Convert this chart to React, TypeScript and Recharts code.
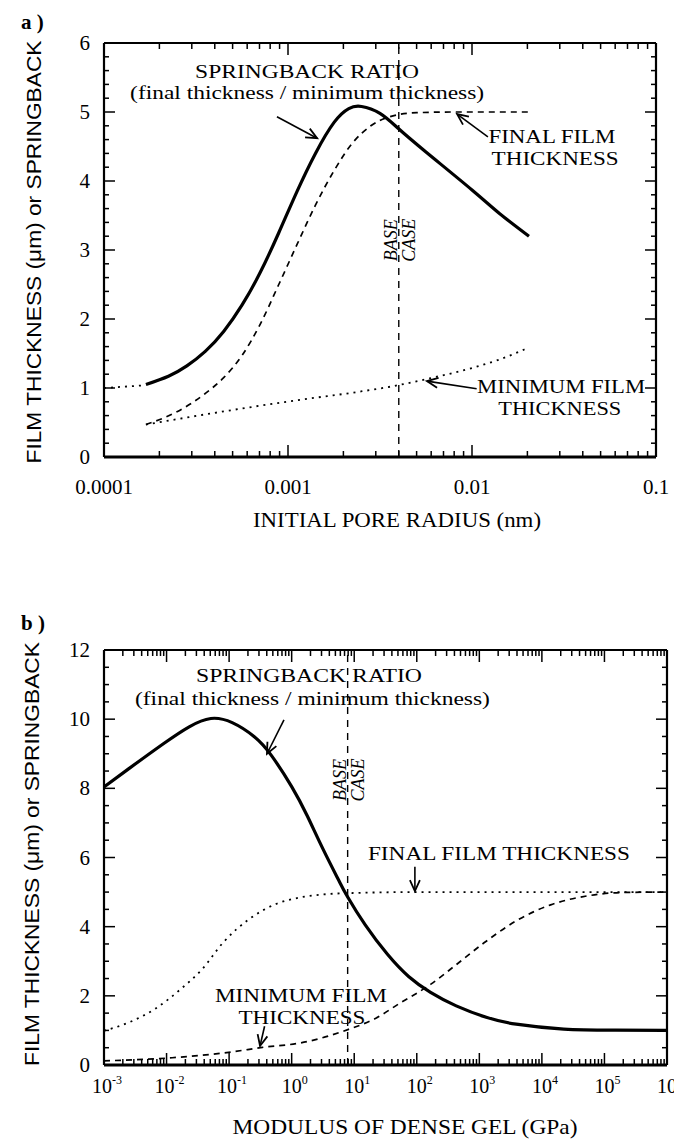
import React from 'react';
import { LineChart, Line, XAxis, YAxis, ReferenceLine, ReferenceDot } from 'recharts';

const SERIF = "'Liberation Serif', 'Times New Roman', Times, serif";
const SANS = "'Liberation Sans Narrow', 'Liberation Sans', Arial, sans-serif";

// ---------------- Panel a: initial pore radius (nm) ----------------
const A_SPRING_R = [1.69e-4, 2.24e-4, 2.82e-4, 3.55e-4, 4.47e-4, 5.62e-4, 7.08e-4, 8.91e-4, 1.12e-3, 1.41e-3, 1.78e-3, 2.14e-3, 2.51e-3, 3.16e-3, 3.98e-3, 5.62e-3, 1.0e-2, 1.41e-2, 2.04e-2];
const A_SPRING_V = [1.05, 1.17, 1.32, 1.53, 1.82, 2.2, 2.68, 3.25, 3.85, 4.4, 4.85, 5.05, 5.08, 4.98, 4.76, 4.42, 3.87, 3.53, 3.2];
const A_FINAL_R = [1.69e-4, 2.51e-4, 3.55e-4, 4.47e-4, 5.62e-4, 7.08e-4, 8.91e-4, 1.12e-3, 1.41e-3, 1.78e-3, 2.24e-3, 2.82e-3, 3.55e-3, 5.01e-3, 7.94e-3, 2.04e-2];
const A_FINAL_V = [0.47, 0.66, 0.92, 1.15, 1.47, 1.93, 2.5, 3.08, 3.65, 4.15, 4.55, 4.8, 4.93, 4.99, 5.0, 5.0];
const A_MIN_R = [1.69e-4, 4.0e-4, 1.17e-3, 2.35e-3, 3.45e-3, 5.9e-3, 1.0e-2, 1.4e-2, 1.93e-2];
const A_MIN_V = [0.47, 0.64, 0.83, 0.94, 1.01, 1.14, 1.29, 1.41, 1.56];
const A_LEAD_R = [1.0e-4, 1.69e-4];
const A_LEAD_V = [1.0, 1.04];
const A_BASE = 4.0e-3;
const A_X_DOMAIN = [1e-4, 1e-1];
const A_X_MAJOR = [1e-4, 1e-3, 1e-2, 1e-1];
const A_X_LABELS = ['0.0001', '0.001', '0.01', '0.1'];
const A_Y_DOMAIN = [0, 6];

// ---------------- Panel b: modulus of dense gel (GPa) ----------------
const B_SPRING_E = [0.001, 0.0025, 0.0089, 0.023, 0.051, 0.112, 0.25, 0.47, 1, 1.78, 3.16, 5.62, 7.9, 15, 34, 74, 166, 427, 1290, 3890, 22400, 150000, 1e6];
const B_SPRING_V = [8.04, 8.57, 9.29, 9.78, 10.02, 9.9, 9.5, 8.96, 8.05, 7.2, 6.25, 5.35, 4.85, 4.05, 3.2, 2.56, 2.1, 1.71, 1.38, 1.18, 1.04, 1.01, 1.0];
const B_FINAL_E = [0.001, 0.0025, 0.0065, 0.017, 0.037, 0.081, 0.21, 0.55, 1.41, 3.6, 8.1, 100, 1e6];
const B_FINAL_V = [0.99, 1.23, 1.62, 2.2, 2.77, 3.55, 4.22, 4.65, 4.85, 4.94, 4.97, 5.0, 5.0];
const B_MIN_E = [0.001, 0.0123, 0.112, 0.34, 1.41, 8.1, 21, 54, 166, 427, 1290, 3890, 13800, 57500, 204000, 1e6];
const B_MIN_V = [0.12, 0.21, 0.38, 0.51, 0.64, 1.03, 1.33, 1.79, 2.33, 2.9, 3.58, 4.17, 4.63, 4.9, 4.99, 5.0];
const B_BASE = 7.85;
const B_X_DOMAIN = [1e-3, 1e6];
const B_X_MAJOR = [1e-3, 1e-2, 1e-1, 1e0, 1e1, 1e2, 1e3, 1e4, 1e5, 1e6];
const B_X_EXP = ['-3', '-2', '-1', '0', '1', '2', '3', '4', '5', '6'];
const B_Y_DOMAIN = [0, 12];

// ---------------- Annotations ----------------
const A_NOTES = [
  { x: 1.27e-3, y: 5.49, text: 'SPRINGBACK RATIO', len: 224 },
  { x: 1.27e-3, y: 5.19, text: '(final thickness / minimum thickness)', len: 354 },
  { x: 2.72e-2, y: 4.55, text: 'FINAL FILM', len: 127 },
  { x: 2.83e-2, y: 4.23, text: 'THICKNESS', len: 127 },
  { x: 3.05e-2, y: 0.93, text: 'MINIMUM FILM', len: 168 },
  { x: 3.0e-2, y: 0.61, text: 'THICKNESS', len: 123 },
];
const A_ARROWS = [
  { x1: 8.71e-4, y1: 4.93, x2: 1.44e-3, y2: 4.62 },
  { x1: 1.22e-2, y1: 4.64, x2: 8.3e-3, y2: 4.97 },
  { x1: 1.06e-2, y1: 0.99, x2: 5.69e-3, y2: 1.1 },
];
const A_BASE_LABEL_Y = 3.14;

const B_NOTES = [
  { x: 1.89, y: 11.08, text: 'SPRINGBACK RATIO', len: 226 },
  { x: 2.15, y: 10.42, text: '(final thickness / minimum thickness)', len: 355 },
  { x: 2060, y: 5.93, text: 'FINAL FILM THICKNESS', len: 262 },
  { x: 1.41, y: 1.82, text: 'MINIMUM FILM', len: 172 },
  { x: 1.46, y: 1.18, text: 'THICKNESS', len: 127 },
];
const B_ARROWS = [
  { x1: 0.753, y1: 9.98, x2: 0.403, y2: 9.0 },
  { x1: 93.3, y1: 5.73, x2: 93.3, y2: 5.03 },
  { x1: 0.369, y1: 1.12, x2: 0.312, y2: 0.55 },
];
const B_BASE_LABEL_Y = 8.24;

// ---------------- helpers ----------------
const zip = (xs: number[], ys: number[]) => xs.map((x, i) => ({ x, v: ys[i] }));

const logTicks = (lo: number, hi: number) => {
  const out: number[] = [];
  for (let e = lo; e < hi; e++) {
    for (let m = 1; m < 10; m++) out.push(Number((m * Math.pow(10, e)).toPrecision(4)));
  }
  out.push(Number(Math.pow(10, hi).toPrecision(4)));
  return out;
};
const linTicks = (max: number, step: number) => {
  const out: number[] = [];
  for (let i = 0; i * step <= max + 1e-9; i++) out.push(Number((i * step).toFixed(3)));
  return out;
};
const majorIndex = (majors: number[], v: number) =>
  majors.findIndex((m) => Math.abs(v - m) <= Math.abs(m) * 1e-6);

const A_X_TICKS = logTicks(-4, -1);
const B_X_TICKS = logTicks(-3, 6);
const A_Y_TICKS = linTicks(6, 0.2);
const B_Y_TICKS = linTicks(12, 0.5);

const BottomTick = (p: any) => {
  const { x, y, payload, majors, labels, sup, labelDy } = p;
  const idx = majorIndex(majors, payload.value);
  const major = idx >= 0;
  return (
    <g>
      <line x1={x} y1={y} x2={x} y2={y - (major ? 12 : 6)} stroke="#000" strokeWidth={1.5} />
      {major && !sup && (
        <text x={x} y={y + labelDy} textAnchor="middle" fontFamily={SERIF} fontSize={21} fill="#000">
          {labels[idx]}
        </text>
      )}
      {major && sup && (
        <text x={x + 3} y={y + labelDy} textAnchor="middle" fontFamily={SERIF} fontSize={20} fill="#000">
          10
          <tspan dy={-9} fontSize={12}>{labels[idx]}</tspan>
        </text>
      )}
    </g>
  );
};

const TopTick = (p: any) => {
  const { x, y, payload, majors } = p;
  const major = majorIndex(majors, payload.value) >= 0;
  return <line x1={x} y1={y} x2={x} y2={y + (major ? 12 : 6)} stroke="#000" strokeWidth={1.5} />;
};

const LeftTick = (p: any) => {
  const { x, y, payload, step } = p;
  const v = payload.value;
  const major = Math.abs(v / step - Math.round(v / step)) < 1e-6;
  return (
    <g>
      <line x1={x} y1={y} x2={x + (major ? 11 : 5)} y2={y} stroke="#000" strokeWidth={1.5} />
      {major && (
        <text x={x - 14} y={y + 7} textAnchor="end" fontFamily={SERIF} fontSize={21} fill="#000">
          {String(Math.round(v))}
        </text>
      )}
    </g>
  );
};

const RightTick = (p: any) => {
  const { x, y, payload, step } = p;
  const v = payload.value;
  const major = Math.abs(v / step - Math.round(v / step)) < 1e-6;
  return <line x1={x} y1={y} x2={x - (major ? 11 : 5)} y2={y} stroke="#000" strokeWidth={1.5} />;
};

const Arrow = (p: any) => {
  const { x1, y1, x2, y2 } = p;
  const a = Math.atan2(y2 - y1, x2 - x1);
  const L = 11;
  const W = 5;
  const bx = x2 - L * Math.cos(a);
  const by = y2 - L * Math.sin(a);
  const p1x = bx + W * Math.sin(a);
  const p1y = by - W * Math.cos(a);
  const p2x = bx - W * Math.sin(a);
  const p2y = by + W * Math.cos(a);
  return (
    <g>
      <line x1={x1} y1={y1} x2={x2} y2={y2} stroke="#000" strokeWidth={1.6} />
      <path d={`M${p1x},${p1y}L${x2},${y2}L${p2x},${p2y}`} fill="none" stroke="#000" strokeWidth={1.8} />
    </g>
  );
};

const noteShape = (text: string, len: number) => (p: any) => (
  <text
    x={p.cx}
    y={p.cy}
    textAnchor="middle"
    fontFamily={SERIF}
    fontSize={18}
    fill="#000"
    textLength={len}
    lengthAdjust="spacingAndGlyphs"
  >
    {text}
  </text>
);

const baseShape = (p: any) => (
  <g fontFamily={SERIF} fontSize={18} fontStyle="italic" fill="#000">
    <text transform={`translate(${p.cx - 2} ${p.cy}) rotate(-90)`} textAnchor="middle">BASE</text>
    <text transform={`translate(${p.cx + 16} ${p.cy}) rotate(-90)`} textAnchor="middle">CASE</text>
  </g>
);

type Pt = { x: number; v: number };
type PanelProps = {
  height: number;
  margin: { top: number; right: number; bottom: number; left: number };
  xDomain: number[];
  xTicks: number[];
  xMajors: number[];
  xLabels: string[];
  sup: boolean;
  labelDy: number;
  yDomain: number[];
  yTicks: number[];
  yStep: number;
  spring: Pt[];
  dashed: Pt[];
  dotted: Pt[];
  extraDotted?: Pt[];
  base: number;
  baseLabelY: number;
  notes: { x: number; y: number; text: string; len: number }[];
  arrows: { x1: number; y1: number; x2: number; y2: number }[];
};

const Panel = (pp: PanelProps) => (
  <LineChart width={674} height={pp.height} margin={pp.margin}>
    <XAxis
      xAxisId="b"
      type="number"
      dataKey="x"
      scale="log"
      domain={pp.xDomain}
      ticks={pp.xTicks}
      interval={0}
      allowDataOverflow
      height={1}
      tickSize={0}
      tickMargin={0}
      tickLine={false}
      axisLine={{ stroke: '#000', strokeWidth: 3 }}
      tick={(p: any) => <BottomTick {...p} majors={pp.xMajors} labels={pp.xLabels} sup={pp.sup} labelDy={pp.labelDy} />}
    />
    <XAxis
      xAxisId="t"
      orientation="top"
      type="number"
      dataKey="x"
      scale="log"
      domain={pp.xDomain}
      ticks={pp.xTicks}
      interval={0}
      allowDataOverflow
      height={1}
      tickSize={0}
      tickMargin={0}
      tickLine={false}
      axisLine={{ stroke: '#000', strokeWidth: 2.2 }}
      tick={(p: any) => <TopTick {...p} majors={pp.xMajors} />}
    />
    <YAxis
      yAxisId="l"
      type="number"
      domain={pp.yDomain}
      ticks={pp.yTicks}
      interval={0}
      allowDataOverflow
      width={1}
      tickSize={0}
      tickMargin={0}
      tickLine={false}
      axisLine={{ stroke: '#000', strokeWidth: 2.2 }}
      tick={(p: any) => <LeftTick {...p} step={pp.yStep} />}
    />
    <YAxis
      yAxisId="r"
      orientation="right"
      type="number"
      domain={pp.yDomain}
      ticks={pp.yTicks}
      interval={0}
      allowDataOverflow
      width={1}
      tickSize={0}
      tickMargin={0}
      tickLine={false}
      axisLine={{ stroke: '#000', strokeWidth: 2.2 }}
      tick={(p: any) => <RightTick {...p} step={pp.yStep} />}
    />
    <ReferenceLine xAxisId="b" yAxisId="l" x={pp.base} stroke="#000" strokeWidth={1.4} strokeDasharray="7 6" />
    <ReferenceDot xAxisId="b" yAxisId="l" x={pp.base} y={pp.baseLabelY} r={0} shape={baseShape} />
    {pp.extraDotted && (
      <Line xAxisId="b" yAxisId="l" data={pp.extraDotted} dataKey="v" type="monotone" stroke="#000" strokeWidth={1.8} strokeDasharray="2 5" dot={false} activeDot={false} isAnimationActive={false} />
    )}
    <Line xAxisId="b" yAxisId="l" data={pp.dotted} dataKey="v" type="monotone" stroke="#000" strokeWidth={1.8} strokeDasharray="2 5" dot={false} activeDot={false} isAnimationActive={false} />
    <Line xAxisId="b" yAxisId="l" data={pp.dashed} dataKey="v" type="monotone" stroke="#000" strokeWidth={1.7} strokeDasharray="6 5" dot={false} activeDot={false} isAnimationActive={false} />
    <Line xAxisId="b" yAxisId="l" data={pp.spring} dataKey="v" type="natural" stroke="#000" strokeWidth={3.2} dot={false} activeDot={false} isAnimationActive={false} />
    {pp.notes.map((n, i) => (
      <ReferenceDot key={`n${i}`} xAxisId="b" yAxisId="l" x={n.x} y={n.y} r={0} shape={noteShape(n.text, n.len)} />
    ))}
    {pp.arrows.map((a, i) => (
      <ReferenceLine
        key={`a${i}`}
        xAxisId="b"
        yAxisId="l"
        segment={[{ x: a.x1, y: a.y1 }, { x: a.x2, y: a.y2 }]}
        shape={Arrow}
      />
    ))}
  </LineChart>
);

export default function App() {
  return (
    <div style={{ position: 'absolute', left: 0, top: 0, width: 674, height: 1143, background: '#fff', overflow: 'hidden' }}>
      <div style={{ position: 'absolute', left: 0, top: 0 }}>
        <Panel
          height={560}
          margin={{ top: 42, right: 17, bottom: 102, left: 103 }}
          xDomain={A_X_DOMAIN}
          xTicks={A_X_TICKS}
          xMajors={A_X_MAJOR}
          xLabels={A_X_LABELS}
          sup={false}
          labelDy={37}
          yDomain={A_Y_DOMAIN}
          yTicks={A_Y_TICKS}
          yStep={1}
          spring={zip(A_SPRING_R, A_SPRING_V)}
          dashed={zip(A_FINAL_R, A_FINAL_V)}
          dotted={zip(A_MIN_R, A_MIN_V)}
          extraDotted={zip(A_LEAD_R, A_LEAD_V)}
          base={A_BASE}
          baseLabelY={A_BASE_LABEL_Y}
          notes={A_NOTES}
          arrows={A_ARROWS}
        />
      </div>
      <div style={{ position: 'absolute', left: 0, top: 560 }}>
        <Panel
          height={583}
          margin={{ top: 89, right: 6, bottom: 77, left: 103 }}
          xDomain={B_X_DOMAIN}
          xTicks={B_X_TICKS}
          xMajors={B_X_MAJOR}
          xLabels={B_X_EXP}
          sup={true}
          labelDy={28}
          yDomain={B_Y_DOMAIN}
          yTicks={B_Y_TICKS}
          yStep={2}
          spring={zip(B_SPRING_E, B_SPRING_V)}
          dashed={zip(B_MIN_E, B_MIN_V)}
          dotted={zip(B_FINAL_E, B_FINAL_V)}
          base={B_BASE}
          baseLabelY={B_BASE_LABEL_Y}
          notes={B_NOTES}
          arrows={B_ARROWS}
        />
      </div>
      <svg width={674} height={1143} style={{ position: 'absolute', left: 0, top: 0, pointerEvents: 'none' }}>
        <text x={21} y={29} fontFamily={SERIF} fontSize={21} fontWeight="bold" fill="#000">a )</text>
        <text x={21} y={630} fontFamily={SERIF} fontSize={21} fontWeight="bold" fill="#000">b )</text>
        <text transform="translate(41 252) rotate(-90)" textAnchor="middle" fontFamily={SANS} fontSize={20} fill="#000" textLength={423} lengthAdjust="spacingAndGlyphs">
          FILM THICKNESS (μm) or SPRINGBACK
        </text>
        <text transform="translate(39 854) rotate(-90)" textAnchor="middle" fontFamily={SANS} fontSize={20} fill="#000" textLength={424} lengthAdjust="spacingAndGlyphs">
          FILM THICKNESS (μm) or SPRINGBACK
        </text>
        <text x={397} y={527} textAnchor="middle" fontFamily={SERIF} fontSize={21} fill="#000" textLength={288} lengthAdjust="spacingAndGlyphs">
          INITIAL PORE RADIUS (nm)
        </text>
        <text x={405} y={1134} textAnchor="middle" fontFamily={SERIF} fontSize={21} fill="#000" textLength={345} lengthAdjust="spacingAndGlyphs">
          MODULUS OF DENSE GEL (GPa)
        </text>
      </svg>
    </div>
  );
}
